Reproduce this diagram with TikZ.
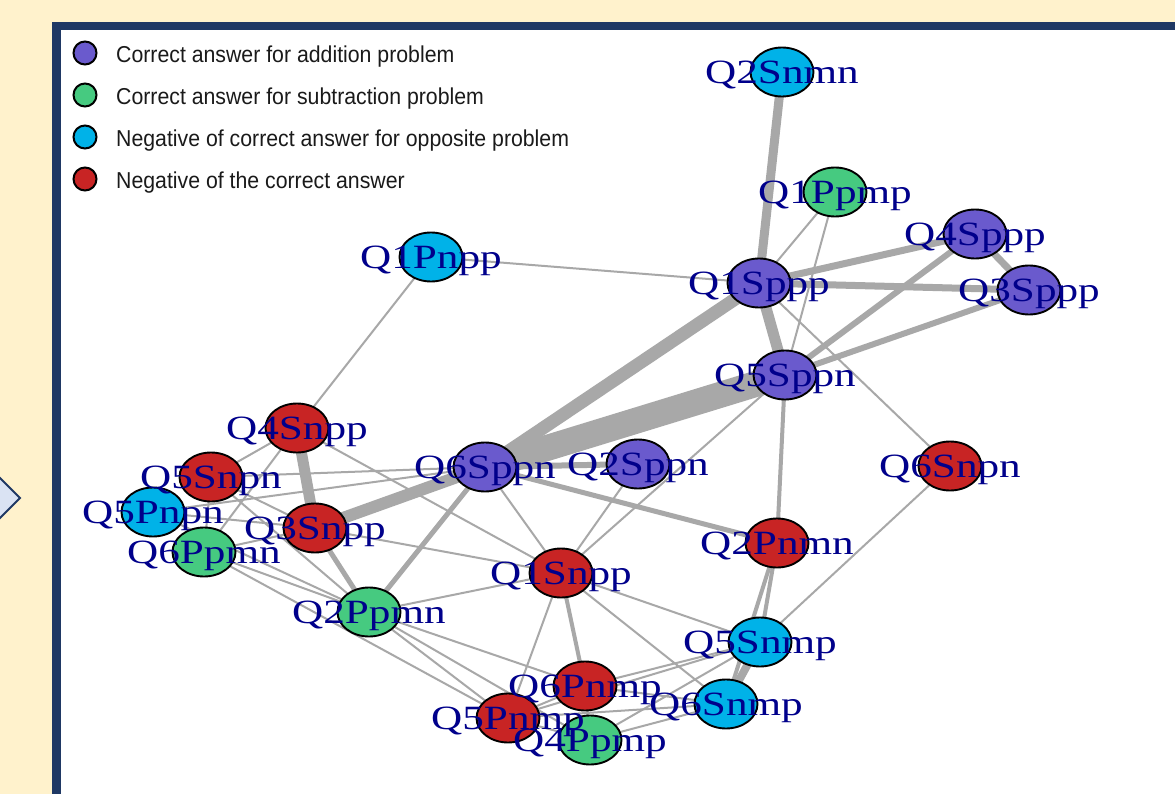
\documentclass[tikz,border=0pt]{standalone}
\usepackage{fontspec}
\newfontfamily\labfont{Liberation Serif}
\newfontfamily\legfont{Liberation Sans}
\usetikzlibrary{shapes.geometric}
\definecolor{cream}{RGB}{255,242,204}
\definecolor{navy}{RGB}{31,56,100}
\definecolor{chev}{RGB}{218,227,243}
\definecolor{edgegray}{RGB}{168,168,168}
\definecolor{addc}{RGB}{106,90,205}
\definecolor{subc}{RGB}{70,202,128}
\definecolor{oppc}{RGB}{0,178,232}
\definecolor{negc}{RGB}{200,36,36}
\definecolor{labc}{RGB}{0,0,139}
\definecolor{legtext}{RGB}{26,26,26}
\pgfdeclarelayer{back}
\pgfdeclarelayer{edges}
\pgfsetlayers{back,edges,main}

\begin{document}
\begin{tikzpicture}[x=1pt,y=-1pt,
  vtx/.style={ellipse, draw=black, line width=1.9pt, minimum width=63pt,
              minimum height=49pt, inner sep=0pt},
  add/.style={vtx, fill=addc},
  sub/.style={vtx, fill=subc},
  opp/.style={vtx, fill=oppc},
  neg/.style={vtx, fill=negc},
  lab/.style={anchor=base, yshift=-11.3pt, text=labc, inner sep=0pt,
              font=\labfont\fontsize{34}{40}\selectfont},
  ed/.style={draw=edgegray, line width=#1},
  ed/.default=2pt,
  legdot/.style={circle, draw=black, line width=2pt, minimum size=23pt, inner sep=0pt},
  legtxt/.style={anchor=base west, inner sep=0pt, text=legtext,
                 font=\legfont\fontsize{23}{26}\selectfont}
]
\newcommand\wide[1]{\scalebox{1.27}[1]{#1}}
\newcommand\narrow[1]{\scalebox{0.925}[1]{#1}}

\useasboundingbox (0,0) rectangle (1175,794);
\clip (0,0) rectangle (1175,794);

% page background, framed panel and side chevron
\begin{pgfonlayer}{back}
  \fill[cream] (0,0) rectangle (1175,794);
  \fill[navy] (52,22) rectangle (1190,810);
  \fill[white] (61,30) rectangle (1190,810);
  \filldraw[fill=chev, draw=navy, line width=2pt] (-30,448) -- (20,498) -- (-30,548) -- cycle;
\end{pgfonlayer}

% vertices
\node[opp] (Q2Snmn) at (782,72) {};
\node[sub] (Q1Ppmp) at (835,192) {};
\node[add] (Q4Sppp) at (975,234) {};
\node[add] (Q3Sppp) at (1029,290) {};
\node[add] (Q1Sppp) at (759,283) {};
\node[add] (Q5Sppn) at (785,375) {};
\node[opp] (Q1Pnpp) at (431,257) {};
\node[add] (Q6Sppn) at (485,467) {};
\node[add] (Q2Sppn) at (638,464) {};
\node[neg] (Q1Snpp) at (561,573) {};
\node[sub] (Q2Ppmn) at (369,612) {};
\node[neg] (Q3Snpp) at (315,528) {};
\node[neg] (Q4Snpp) at (297,428) {};
\node[neg] (Q5Snpn) at (211,477) {};
\node[opp] (Q5Pnpn) at (153,512) {};
\node[sub] (Q6Ppmn) at (204,552) {};
\node[neg] (Q6Snpn) at (950,466) {};
\node[neg] (Q2Pnmn) at (777,543) {};
\node[opp] (Q5Snmp) at (760,642) {};
\node[opp] (Q6Snmp) at (726,704) {};
\node[neg] (Q6Pnmp) at (585,686) {};
\node[neg] (Q5Pnmp) at (508,718) {};
\node[sub] (Q4Ppmp) at (590,740) {};

% weighted edges
\begin{pgfonlayer}{edges}
  \draw[ed=26pt] (Q5Sppn.center) -- (Q6Sppn.center);
  \draw[ed=13pt] (Q1Sppp.center) -- (Q6Sppn.center);
  \draw[ed=11pt] (Q1Sppp.center) -- (Q5Sppn.center);
  \draw[ed=9pt]  (Q2Snmn.center) -- (Q1Sppp.center);
  \draw[ed=12pt] (Q6Sppn.center) -- (Q3Snpp.center);
  \draw[ed=11pt] (Q4Snpp.center) -- (Q3Snpp.center);
  \draw[ed=8pt]  (Q5Snmp.center) -- (Q6Snmp.center);
  \draw[ed=7pt]  (Q1Sppp.center) -- (Q4Sppp.center);
  \draw[ed=7pt]  (Q1Sppp.center) -- (Q3Sppp.center);
  \draw[ed=7pt]  (Q4Sppp.center) -- (Q3Sppp.center);
  \draw[ed=6pt]  (Q4Sppp.center) -- (Q5Sppn.center);
  \draw[ed=6pt]  (Q3Sppp.center) -- (Q5Sppn.center);
  \draw[ed=4pt]  (Q5Sppn.center) -- (Q2Pnmn.center);
  \draw[ed=6pt]  (Q6Sppn.center) -- (Q2Sppn.center);
  \draw[ed=5pt]  (Q6Sppn.center) -- (Q2Pnmn.center);
  \draw[ed=5pt]  (Q6Sppn.center) -- (Q2Ppmn.center);
  \draw[ed=5pt]  (Q3Snpp.center) -- (Q2Ppmn.center);
  \draw[ed=4pt]  (Q1Snpp.center) -- (Q6Pnmp.center);
  \draw[ed=4pt]  (Q2Pnmn.center) -- (Q5Snmp.center);
  \draw[ed=4pt]  (Q2Pnmn.center) -- (Q6Snmp.center);
  \draw[ed] (Q1Ppmp.center) -- (Q1Sppp.center);
  \draw[ed] (Q1Ppmp.center) -- (Q5Sppn.center);
  \draw[ed] (Q1Sppp.center) -- (Q6Snpn.center);
  \draw[ed] (Q1Pnpp.center) -- (Q1Sppp.center);
  \draw[ed] (Q1Pnpp.center) -- (Q4Snpp.center);
  \draw[ed] (Q5Sppn.center) -- (Q1Snpp.center);
  \draw[ed] (Q2Sppn.center) -- (Q1Snpp.center);
  \draw[ed] (Q6Sppn.center) -- (Q1Snpp.center);
  \draw[ed] (Q3Snpp.center) -- (Q1Snpp.center);
  \draw[ed] (Q4Snpp.center) -- (Q1Snpp.center);
  \draw[ed] (Q2Ppmn.center) -- (Q1Snpp.center);
  \draw[ed] (Q1Snpp.center) -- (Q5Pnmp.center);
  \draw[ed] (Q1Snpp.center) -- (Q6Snmp.center);
  \draw[ed] (Q1Snpp.center) -- (Q5Snmp.center);
  \draw[ed] (Q6Snpn.center) -- (Q5Snmp.center);
  \draw[ed] (Q4Snpp.center) -- (Q5Snpn.center);
  \draw[ed] (Q4Snpp.center) -- (Q6Ppmn.center);
  \draw[ed] (Q5Snpn.center) -- (Q6Sppn.center);
  \draw[ed] (Q5Snpn.center) -- (Q3Snpp.center);
  \draw[ed] (Q5Snpn.center) -- (Q2Ppmn.center);
  \draw[ed] (Q5Snpn.center) -- (Q6Ppmn.center);
  \draw[ed] (Q5Pnpn.center) -- (Q6Sppn.center);
  \draw[ed] (Q5Pnpn.center) -- (Q3Snpp.center);
  \draw[ed] (Q5Pnpn.center) -- (Q2Ppmn.center);
  \draw[ed] (Q6Ppmn.center) -- (Q3Snpp.center);
  \draw[ed] (Q6Ppmn.center) -- (Q2Ppmn.center);
  \draw[ed] (Q6Ppmn.center) -- (Q5Pnmp.center);
  \draw[ed] (Q2Ppmn.center) -- (Q6Pnmp.center);
  \draw[ed] (Q2Ppmn.center) -- (Q5Pnmp.center);
  \draw[ed] (Q2Ppmn.center) -- (Q4Ppmp.center);
  \draw[ed] (Q6Pnmp.center) -- (Q5Snmp.center);
  \draw[ed] (Q6Pnmp.center) -- (Q6Snmp.center);
  \draw[ed] (Q5Pnmp.center) -- (Q5Snmp.center);
  \draw[ed] (Q5Pnmp.center) -- (Q6Snmp.center);
  \draw[ed] (Q4Ppmp.center) -- (Q5Snmp.center);
  \draw[ed] (Q4Ppmp.center) -- (Q6Snmp.center);
  \draw[ed] (Q5Pnmp.center) -- (Q6Pnmp.center);
  \draw[ed] (Q5Pnmp.center) -- (Q4Ppmp.center);
  \draw[ed] (Q6Pnmp.center) -- (Q4Ppmp.center);
\end{pgfonlayer}

% vertex labels, set above all vertices
\node[lab] (lQ2Snmn) at (Q2Snmn) {\wide{Q2Snmn}};
\node[lab] (lQ1Ppmp) at (Q1Ppmp) {\wide{Q1Ppmp}};
\node[lab] (lQ4Sppp) at (Q4Sppp) {\wide{Q4Sppp}};
\node[lab] (lQ3Sppp) at (Q3Sppp) {\wide{Q3Sppp}};
\node[lab] (lQ1Sppp) at (Q1Sppp) {\wide{Q1Sppp}};
\node[lab] (lQ5Sppn) at (Q5Sppn) {\wide{Q5Sppn}};
\node[lab] (lQ1Pnpp) at (Q1Pnpp) {\wide{Q1Pnpp}};
\node[lab] (lQ6Sppn) at (Q6Sppn) {\wide{Q6Sppn}};
\node[lab] (lQ2Sppn) at (Q2Sppn) {\wide{Q2Sppn}};
\node[lab] (lQ1Snpp) at (Q1Snpp) {\wide{Q1Snpp}};
\node[lab] (lQ2Ppmn) at (Q2Ppmn) {\wide{Q2Ppmn}};
\node[lab] (lQ3Snpp) at (Q3Snpp) {\wide{Q3Snpp}};
\node[lab] (lQ4Snpp) at (Q4Snpp) {\wide{Q4Snpp}};
\node[lab] (lQ5Snpn) at (Q5Snpn) {\wide{Q5Snpn}};
\node[lab] (lQ5Pnpn) at (Q5Pnpn) {\wide{Q5Pnpn}};
\node[lab] (lQ6Ppmn) at (Q6Ppmn) {\wide{Q6Ppmn}};
\node[lab] (lQ6Snpn) at (Q6Snpn) {\wide{Q6Snpn}};
\node[lab] (lQ2Pnmn) at (Q2Pnmn) {\wide{Q2Pnmn}};
\node[lab] (lQ5Snmp) at (Q5Snmp) {\wide{Q5Snmp}};
\node[lab] (lQ6Snmp) at (Q6Snmp) {\wide{Q6Snmp}};
\node[lab] (lQ6Pnmp) at (Q6Pnmp) {\wide{Q6Pnmp}};
\node[lab] (lQ5Pnmp) at (Q5Pnmp) {\wide{Q5Pnmp}};
\node[lab] (lQ4Ppmp) at (Q4Ppmp) {\wide{Q4Ppmp}};

% legend
\node[legdot, fill=addc] (k1) at (85,53) {};
\node[legdot, fill=subc] (k2) at (85,95) {};
\node[legdot, fill=oppc] (k3) at (85,137) {};
\node[legdot, fill=negc] (k4) at (85,179) {};
\node[legtxt] (t1) at (116,63) {\narrow{Correct answer for addition problem}};
\node[legtxt] (t2) at (116,105) {\narrow{Correct answer for subtraction problem}};
\node[legtxt] (t3) at (116,147) {\narrow{Negative of correct answer for opposite problem}};
\node[legtxt] (t4) at (116,189) {\narrow{Negative of the correct answer}};
\end{tikzpicture}
\end{document}
